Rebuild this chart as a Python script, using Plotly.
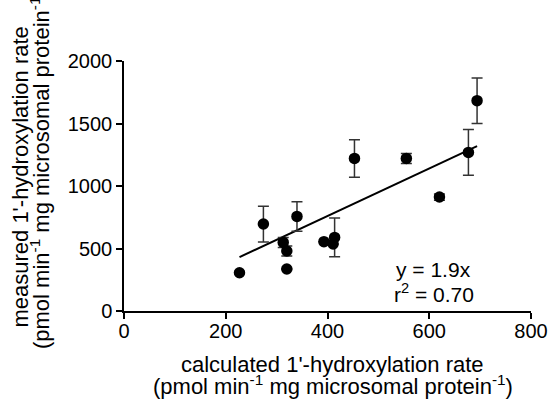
import plotly.graph_objects as go

calc = [227, 274, 313, 320, 320, 340, 393, 411, 414, 453, 555, 620, 677, 694]
meas = [306, 696, 549, 480, 336, 757, 555, 536, 589, 1221, 1221, 912, 1269, 1683]
err = [0, 143, 40, 40, 0, 118, 0, 0, 155, 150, 40, 25, 183, 182]
slope = 1.9
fit_x = [min(calc), max(calc)]
fit_y = [slope * v for v in fit_x]

FONT = "Liberation Sans, Arial, sans-serif"
L, R, T, B = 124, 19, 61, 88
W, H = 560, 399
PW, PH = W - L - R, H - T - B

def px(x):
    return (x - L) / PW

def py(y):
    return (H - B - y) / PH

fig = go.Figure()
fig.add_trace(go.Scatter(x=fit_x, y=fit_y, mode="lines",
                         line=dict(color="black", width=2), showlegend=False))
fig.add_trace(go.Scatter(
    x=calc, y=meas, mode="markers",
    marker=dict(color="black", size=11.5),
    error_y=dict(type="data", array=err, visible=True, color="#333333",
                 thickness=1.5, width=5.5),
    showlegend=False))

fig.update_layout(
    width=W, height=H,
    margin=dict(l=L, r=R, t=T, b=B),
    plot_bgcolor="white", paper_bgcolor="white",
    font=dict(family=FONT, size=20, color="black"),
    xaxis=dict(range=[0, 800], tickvals=[0, 200, 400, 600, 800],
               showline=True, linecolor="black", linewidth=1.5,
               ticks="outside", ticklen=6, tickwidth=1.5, tickcolor="black",
               ticklabelstandoff=-5,
               showgrid=False, zeroline=False),
    yaxis=dict(range=[0, 2000], tickvals=[0, 500, 1000, 1500, 2000],
               showline=True, linecolor="black", linewidth=1.5,
               ticks="outside", ticklen=6, tickwidth=1.5, tickcolor="black",
               showgrid=False, zeroline=False),
)

ann = [
    dict(text="calculated 1'-hydroxylation rate", x=px(338), y=py(364),
         xanchor="center", yanchor="middle", textangle=0, size=22),
    dict(text="(pmol min<sup>-1</sup> mg microsomal protein<sup>-1</sup>)",
         x=px(338), y=py(385), xanchor="center", yanchor="middle", textangle=0, size=22),
    dict(text="measured 1'-hydroxylation rate", x=px(17), y=py(177),
         xanchor="center", yanchor="middle", textangle=-90, size=22),
    dict(text="(pmol min<sup>-1</sup> mg microsomal protein<sup>-1</sup>)",
         x=px(38), y=py(169), xanchor="center", yanchor="middle", textangle=-90, size=22),
    dict(text="y = 1.9x", x=px(441), y=py(269), xanchor="center",
         yanchor="middle", textangle=0, size=21),
    dict(text="r<sup>2</sup> = 0.70", x=px(442), y=py(293), xanchor="center",
         yanchor="middle", textangle=0, size=21),
]
for a in ann:
    s = a.pop("size")
    fig.add_annotation(xref="paper", yref="paper", showarrow=False,
                       font=dict(family=FONT, size=s, color="black"), **a)

fig.write_html("out.html")
